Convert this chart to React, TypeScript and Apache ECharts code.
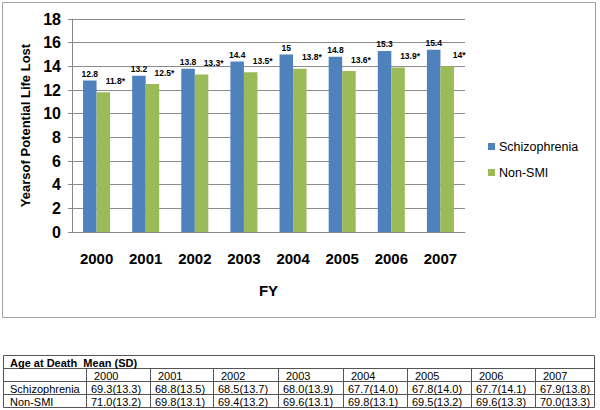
import React, { useEffect, useRef } from "react";
import * as echarts from "echarts";

const categories = ["2000", "2001", "2002", "2003", "2004", "2005", "2006", "2007"];
const schizophrenia = [12.8, 13.2, 13.8, 14.4, 15, 14.8, 15.3, 15.4];
const nonSmi = [11.8, 12.5, 13.3, 13.5, 13.8, 13.6, 13.9, 14.0];
const nonSmiLabels = ["11.8*", "12.5*", "13.3*", "13.5*", "13.8*", "13.6*", "13.9*", "14*"];

const tableTitle = "Age at Death  Mean (SD)";
const rowNames = ["Schizophrenia", "Non-SMI"];
const ageSchizophrenia = ["69.3(13.3)", "68.8(13.5)", "68.5(13.7)", "68.0(13.9)", "67.7(14.0)", "67.8(14.0)", "67.7(14.1)", "67.9(13.8)"];
const ageNonSmi = ["71.0(13.2)", "69.8(13.1)", "69.4(13.2)", "69.6(13.1)", "69.8(13.1)", "69.5(13.2)", "69.6(13.3)", "70.0(13.3)"];

const BLUE = "#4F81BD";
const GREEN = "#9BBB59";
const SANS = "Liberation Sans, Arial, sans-serif";

function buildTable(): any[] {
  const els: any[] = [];
  const left = 3.5, right = 594.5, top = 355.5, rowH = 13;
  const colEdges = [86.5, 150.5, 213.5, 278.5, 343.5, 407.5, 471.5, 535.5];
  const lineStyle = { stroke: "#555", lineWidth: 1 };
  els.push({ type: "rect", shape: { x: left, y: top, width: right - left, height: rowH * 4 }, style: { fill: "#fff", stroke: "#555", lineWidth: 1 } });
  for (let r = 1; r < 4; r++) {
    els.push({ type: "line", shape: { x1: left, y1: top + r * rowH, x2: right, y2: top + r * rowH }, style: lineStyle });
  }
  colEdges.forEach((x) => {
    els.push({ type: "line", shape: { x1: x, y1: top + rowH, x2: x, y2: top + rowH * 4 }, style: lineStyle });
  });
  const txt = (x: number, y: number, s: string, bold = false) => ({
    type: "text",
    x,
    y,
    style: { text: s, fill: "#000", font: `${bold ? "bold " : ""}11px ${SANS}`, textAlign: "left", textVerticalAlign: "middle" },
  });
  els.push(txt(10, top + rowH * 0.5 + 0.5, tableTitle, true));
  categories.forEach((c, i) => {
    els.push(txt(colEdges[i] + 7.5, top + rowH * 1.5 + 0.5, c));
    els.push(txt(colEdges[i] + 4.5, top + rowH * 2.5 + 0.5, ageSchizophrenia[i]));
    els.push(txt(colEdges[i] + 4.5, top + rowH * 3.5 + 0.5, ageNonSmi[i]));
  });
  els.push(txt(10, top + rowH * 2.5 + 0.5, rowNames[0]));
  els.push(txt(10, top + rowH * 3.5 + 0.5, rowNames[1]));
  return els;
}

export default function App() {
  const ref = useRef<HTMLDivElement>(null);
  useEffect(() => {
    if (!ref.current) return;
    const chart = echarts.init(ref.current, null, { renderer: "svg" });
    chart.setOption({
      animation: false,
      backgroundColor: "#fff",
      grid: { left: 72, top: 19, right: 135, bottom: 178, containLabel: false },
      legend: {
        orient: "vertical",
        left: 488,
        top: 140,
        padding: 0,
        icon: "rect",
        itemWidth: 7,
        itemHeight: 7,
        itemGap: 13,
        textStyle: { fontFamily: SANS, fontSize: 12.5, color: "#000", padding: [0, 0, 0, -1] },
        data: ["Schizophrenia", "Non-SMI"],
      },
      xAxis: {
        type: "category",
        data: categories,
        name: "FY",
        nameLocation: "middle",
        nameGap: 51,
        nameTextStyle: { fontFamily: SANS, fontWeight: "bold", fontSize: 15, color: "#000" },
        axisLine: { lineStyle: { color: "#888" } },
        axisTick: { show: false },
        axisLabel: { fontFamily: SANS, fontWeight: "bold", fontSize: 15, color: "#000", margin: 19 },
      },
      yAxis: {
        type: "value",
        min: 0,
        max: 18,
        interval: 2,
        name: "Yearsof Potential Life Lost",
        nameLocation: "middle",
        nameGap: 36,
        nameTextStyle: { fontFamily: SANS, fontWeight: "bold", fontSize: 13, color: "#000" },
        axisLine: { show: true, lineStyle: { color: "#888" } },
        axisTick: { show: true, length: 4, lineStyle: { color: "#888" } },
        axisLabel: { fontFamily: SANS, fontWeight: "bold", fontSize: 16, color: "#000", margin: 11 },
        splitLine: { lineStyle: { color: "#8c8c8c", width: 1 } },
      },
      series: [
        {
          name: "Schizophrenia",
          type: "bar",
          data: schizophrenia,
          itemStyle: { color: BLUE },
          barGap: "0%",
          barCategoryGap: "45%",
          label: { show: true, position: "top", distance: 2, fontFamily: SANS, fontWeight: "bold", fontSize: 8.5, color: "#000" },
        },
        {
          name: "Non-SMI",
          type: "bar",
          data: nonSmi,
          itemStyle: { color: GREEN },
          barGap: "0%",
          barCategoryGap: "45%",
          label: {
            show: true,
            position: "top",
            distance: 7,
            offset: [12, 0],
            fontFamily: SANS,
            fontWeight: "bold",
            fontSize: 8.5,
            color: "#000",
            formatter: (p: any) => nonSmiLabels[p.dataIndex],
          },
        },
      ],
      graphic: [
        { type: "rect", z: -1, shape: { x: 2.5, y: 2.5, width: 593, height: 315 }, style: { fill: "none", stroke: "#a0a0a0", lineWidth: 1 } },
        ...buildTable(),
      ],
    });
    return () => chart.dispose();
  }, []);
  return <div ref={ref} style={{ position: "fixed", left: 0, top: 0, width: 600, height: 410 }} />;
}
